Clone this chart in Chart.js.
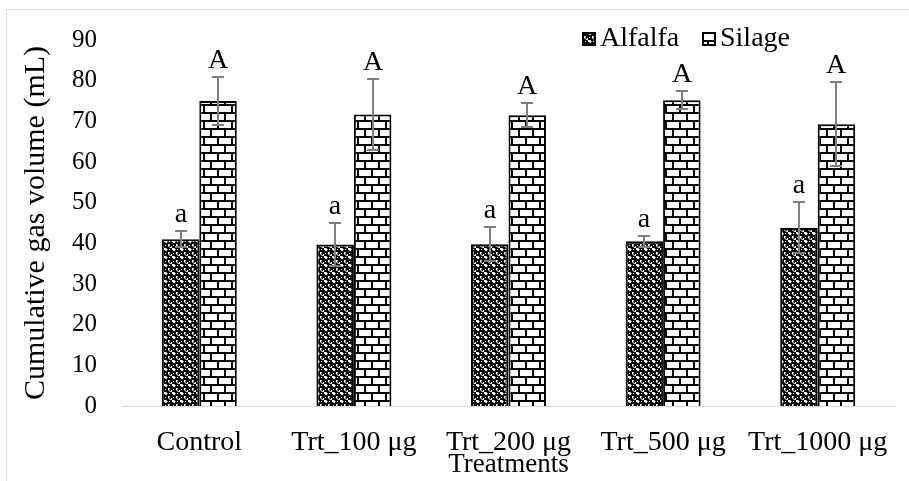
<!DOCTYPE html>
<html lang="en">
<head>
    <meta charset="UTF-8">
    <title>Cumulative gas volume</title>
    <style>
        body {
            margin: 0;
            background: #fff;
            font-family: 'Liberation Serif', 'Times New Roman', serif;
        }
        .wrap {
            position: relative;
            width: 909px;
            height: 481px;
            overflow: hidden;
        }
        .frame {
            position: absolute;
            left: 6px;
            top: 9px;
            width: 1000px;
            height: 1000px;
            border: 1px solid #d9d9d9;
        }
        canvas {
            position: absolute;
            left: 0;
            top: 0;
        }
    </style>
    <script src="https://cdn.jsdelivr.net/npm/chart.js"></script>
</head>
<body>
    <div class="wrap">
        <div class="frame"></div>
        <canvas id="gasChart" width="909" height="481"></canvas>
    </div>
    <script>
        const categories = ['Control', 'Trt_100 μg', 'Trt_200 μg', 'Trt_500 μg', 'Trt_1000 μg'];
        const alfalfa = [41.0, 39.7, 39.8, 40.5, 43.8];
        const alfalfaErr = [2.0, 5.2, 4.2, 1.4, 6.3];
        const silage = [75.0, 71.7, 71.5, 75.2, 69.3];
        const silageErr = [5.8, 8.7, 3.0, 2.2, 10.3];
        const alfalfaLetters = ['a', 'a', 'a', 'a', 'a'];
        const silageLetters = ['A', 'A', 'A', 'A', 'A'];
        const yTicks = [0, 10, 20, 30, 40, 50, 60, 70, 80, 90];

        const FONT = "'Liberation Serif', 'Times New Roman', serif";

        // dark checker-ish fill for alfalfa
        function alfalfaPattern() {
            const c = document.createElement('canvas');
            c.width = 8; c.height = 8;
            const g = c.getContext('2d');
            g.fillStyle = '#fff';
            g.fillRect(0, 0, 8, 8);
            g.fillStyle = '#000';
            g.fillRect(0, 0, 4, 4);
            g.fillRect(4, 4, 4, 4);
            g.beginPath();
            g.arc(4, 4, 2, 0, Math.PI * 2);
            g.fill();
            g.beginPath();
            g.arc(0, 0, 2, 0, Math.PI * 2);
            g.arc(8, 8, 2, 0, Math.PI * 2);
            g.arc(8, 0, 1.4, 0, Math.PI * 2);
            g.arc(0, 8, 1.4, 0, Math.PI * 2);
            g.fill();
            g.fillStyle = '#fff';
            g.fillRect(1, 1, 1, 1);
            g.fillRect(5, 5, 1, 1);
            return g.createPattern(c, 'repeat');
        }

        // brick fill for silage
        function brickPattern() {
            const c = document.createElement('canvas');
            c.width = 14; c.height = 16;
            const g = c.getContext('2d');
            g.fillStyle = '#fff';
            g.fillRect(0, 0, 14, 16);
            g.fillStyle = '#000';
            g.fillRect(0, 0, 14, 2);
            g.fillRect(0, 8, 14, 2);
            g.fillRect(0, 0, 2, 8);
            g.fillRect(7, 8, 2, 8);
            return g.createPattern(c, 'repeat');
        }

        const errors = [alfalfaErr, silageErr];
        const letters = [alfalfaLetters, silageLetters];

        const errorBars = {
            id: 'errorBars',
            afterDatasetsDraw(chart) {
                const ctx = chart.ctx;
                const y = chart.scales.y;
                ctx.save();
                chart.data.datasets.forEach((ds, i) => {
                    const meta = chart.getDatasetMeta(i);
                    meta.data.forEach((bar, j) => {
                        const v = ds.data[j];
                        const e = errors[i][j];
                        const top = Math.round(y.getPixelForValue(v + e));
                        const bot = Math.round(y.getPixelForValue(v - e));
                        const x = Math.round(bar.x);
                        ctx.strokeStyle = '#808080';
                        ctx.lineWidth = 2;
                        ctx.beginPath();
                        ctx.moveTo(x, top);
                        ctx.lineTo(x, bot);
                        ctx.moveTo(x - 6, top);
                        ctx.lineTo(x + 6, top);
                        ctx.moveTo(x - 6, bot);
                        ctx.lineTo(x + 6, bot);
                        ctx.stroke();
                        ctx.fillStyle = '#000';
                        ctx.font = '28px ' + FONT;
                        ctx.textAlign = 'center';
                        ctx.textBaseline = 'alphabetic';
                        ctx.fillText(letters[i][j], x, top - 9);
                    });
                });
                ctx.restore();
            }
        };

        // legend sits inside the plot, top right
        const innerLegend = {
            id: 'innerLegend',
            afterDraw(chart) {
                const ctx = chart.ctx;
                const starts = [583, 703];
                ctx.save();
                ctx.font = '28px ' + FONT;
                ctx.textBaseline = 'middle';
                ctx.textAlign = 'left';
                chart.data.datasets.forEach((ds, i) => {
                    const x = starts[i];
                    ctx.fillStyle = ds.backgroundColor;
                    ctx.fillRect(x, 33, 12, 12);
                    ctx.strokeStyle = '#000';
                    ctx.lineWidth = 2;
                    ctx.strokeRect(x, 33, 12, 12);
                    ctx.fillStyle = '#000';
                    ctx.fillText(ds.label, x + 17, 39);
                });
                ctx.restore();
            }
        };

        const ctx = document.getElementById('gasChart').getContext('2d');
        new Chart(ctx, {
            type: 'bar',
            data: {
                labels: categories,
                datasets: [
                    {
                        label: 'Alfalfa',
                        data: alfalfa,
                        backgroundColor: alfalfaPattern(),
                        borderColor: '#000',
                        borderWidth: 2,
                        categoryPercentage: 0.485,
                        barPercentage: 1
                    },
                    {
                        label: 'Silage',
                        data: silage,
                        backgroundColor: brickPattern(),
                        borderColor: '#000',
                        borderWidth: 2,
                        categoryPercentage: 0.485,
                        barPercentage: 1
                    }
                ]
            },
            options: {
                responsive: false,
                animation: false,
                layout: {
                    autoPadding: false,
                    padding: { left: 18, right: 14, top: 28, bottom: 0 }
                },
                plugins: {
                    legend: { display: false },
                    tooltip: { enabled: false }
                },
                scales: {
                    x: {
                        grid: { display: false, drawTicks: false },
                        border: { color: '#d9d9d9', width: 1 },
                        ticks: {
                            color: '#000',
                            font: { family: FONT, size: 28 },
                            padding: 20,
                            maxRotation: 0,
                            autoSkip: false
                        },
                        title: {
                            display: true,
                            text: 'Treatments',
                            color: '#000',
                            font: { family: FONT, size: 27 },
                            padding: { top: 0, bottom: 0 }
                        },
                        afterFit(scale) { scale.height = 75; }
                    },
                    y: {
                        min: 0,
                        max: 90,
                        afterBuildTicks(scale) {
                            scale.ticks = yTicks.map(v => ({ value: v }));
                        },
                        grid: { display: false, drawTicks: false },
                        border: { display: false },
                        ticks: {
                            color: '#000',
                            font: { family: FONT, size: 25 },
                            padding: 25
                        },
                        title: {
                            display: true,
                            text: 'Cumulative gas volume (mL)',
                            color: '#000',
                            font: { family: FONT, size: 30 },
                            padding: { top: 0, bottom: 0 }
                        },
                        afterFit(scale) { scale.width = 104; }
                    }
                }
            },
            plugins: [errorBars, innerLegend]
        });
    </script>
</body>
</html>
